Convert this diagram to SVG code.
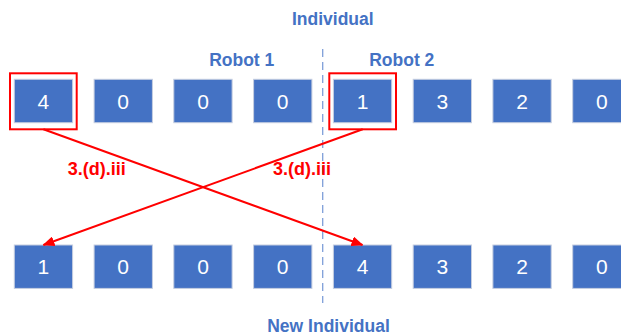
<svg xmlns="http://www.w3.org/2000/svg" width="621" height="335" viewBox="0 0 621 335">
<style>
.box{fill:#4472C4;stroke:#C5CEE0;stroke-width:1}
.num{font-family:"Liberation Sans",Arial,sans-serif;font-size:21px;fill:#FFFFFF;text-anchor:middle}
.title{font-family:"Liberation Sans",Arial,sans-serif;font-size:17.5px;font-weight:bold;fill:#4472C4;text-anchor:middle}
.lbl{font-family:"Liberation Sans",Arial,sans-serif;font-size:18px;font-weight:bold;fill:#FF0000;text-anchor:middle}
.sel{fill:none;stroke:#FF0000;stroke-width:2}
.conn{fill:none;stroke:#FF0000;stroke-width:2}
.div{stroke:#7F9FD9;stroke-width:1.3;stroke-dasharray:8 5}
</style>
<defs>
<marker id="ah" markerWidth="12" markerHeight="10" refX="11" refY="5" orient="auto" markerUnits="userSpaceOnUse">
<path d="M0,0 L12,5 L0,10 Z" fill="#FF0000"/>
</marker>
</defs>
<line class="div" x1="322.7" y1="49" x2="322.7" y2="303"/>
<text class="title" x="332.8" y="25">Individual</text>
<text class="title" x="241.7" y="66">Robot 1</text>
<text class="title" x="401.8" y="66">Robot 2</text>
<text class="title" x="328.5" y="332">New Individual</text>
<g id="top-row">
<g id="t1"><rect class="box" x="14.3" y="79.3" width="58.3" height="43.4"/><text class="num" x="43.4" y="108.6">4</text></g>
<g id="t2"><rect class="box" x="94.1" y="79.3" width="58.3" height="43.4"/><text class="num" x="123.2" y="108.6">0</text></g>
<g id="t3"><rect class="box" x="173.8" y="79.3" width="58.3" height="43.4"/><text class="num" x="203" y="108.6">0</text></g>
<g id="t4"><rect class="box" x="253.6" y="79.3" width="58.3" height="43.4"/><text class="num" x="282.7" y="108.6">0</text></g>
<g id="t5"><rect class="box" x="333.4" y="79.3" width="58.3" height="43.4"/><text class="num" x="362.5" y="108.6">1</text></g>
<g id="t6"><rect class="box" x="413.2" y="79.3" width="58.3" height="43.4"/><text class="num" x="442.3" y="108.6">3</text></g>
<g id="t7"><rect class="box" x="492.9" y="79.3" width="58.3" height="43.4"/><text class="num" x="522" y="108.6">2</text></g>
<g id="t8"><rect class="box" x="572.7" y="79.3" width="58.3" height="43.4"/><text class="num" x="601.8" y="108.6">0</text></g>
</g>
<g id="selections">
<rect class="sel" x="10" y="73.3" width="66.7" height="56"/>
<rect class="sel" x="329.3" y="73.3" width="66.7" height="56"/>
</g>
<g id="bottom-row">
<g id="b1"><rect class="box" x="14.3" y="245" width="58.3" height="43.4"/><text class="num" x="43.4" y="274.3">1</text></g>
<g id="b2"><rect class="box" x="94.1" y="245" width="58.3" height="43.4"/><text class="num" x="123.2" y="274.3">0</text></g>
<g id="b3"><rect class="box" x="173.8" y="245" width="58.3" height="43.4"/><text class="num" x="203" y="274.3">0</text></g>
<g id="b4"><rect class="box" x="253.6" y="245" width="58.3" height="43.4"/><text class="num" x="282.7" y="274.3">0</text></g>
<g id="b5"><rect class="box" x="333.4" y="245" width="58.3" height="43.4"/><text class="num" x="362.5" y="274.3">4</text></g>
<g id="b6"><rect class="box" x="413.2" y="245" width="58.3" height="43.4"/><text class="num" x="442.3" y="274.3">3</text></g>
<g id="b7"><rect class="box" x="492.9" y="245" width="58.3" height="43.4"/><text class="num" x="522" y="274.3">2</text></g>
<g id="b8"><rect class="box" x="572.7" y="245" width="58.3" height="43.4"/><text class="num" x="601.8" y="274.3">0</text></g>
</g>
<g id="connectors">
<line class="conn" x1="43.4" y1="129.3" x2="362.5" y2="245" marker-end="url(#ah)"/>
<line class="conn" x1="362.7" y1="129.3" x2="43.4" y2="245" marker-end="url(#ah)"/>
<text class="lbl" x="96.7" y="175">3.(d).iii</text>
<text class="lbl" x="302" y="175">3.(d).iii</text>
</g>
</svg>
